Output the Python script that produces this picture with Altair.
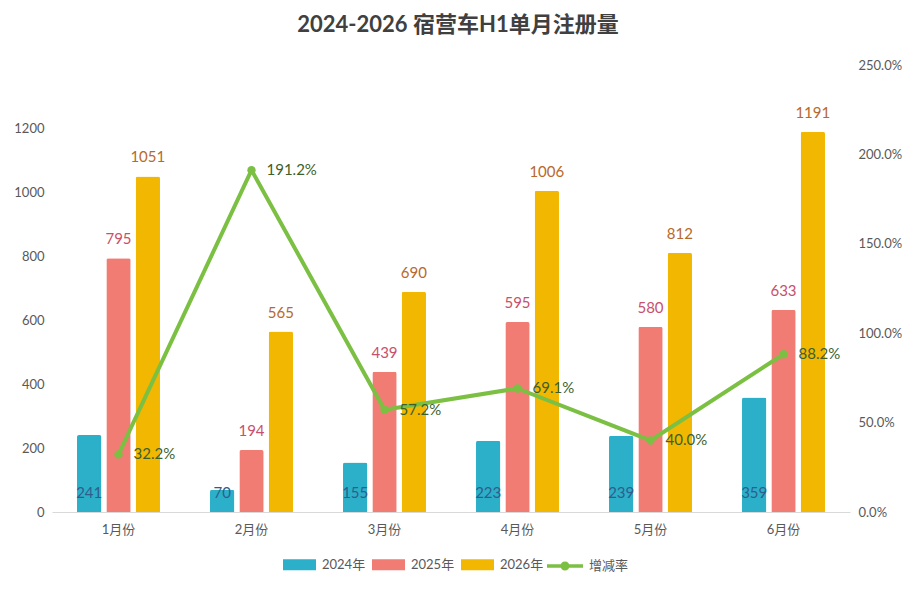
import altair as alt
import pandas as pd

months = ["1月份", "2月份", "3月份", "4月份", "5月份", "6月份"]
years = ["2024年", "2025年", "2026年"]
v2024 = [241, 70, 155, 223, 239, 359]
v2025 = [795, 194, 439, 595, 580, 633]
v2026 = [1051, 565, 690, 1006, 812, 1191]
growth = [0.322, 1.912, 0.572, 0.691, 0.400, 0.882]

bar_colors = ["#2CB0C9", "#F17C74", "#F2B700"]
label_colors = ["#2E5E8C", "#C8506A", "#B8692A"]
line_color = "#7BC043"
FONT = "Lato, 'Noto Sans CJK SC', sans-serif"

rows = []
for i, m in enumerate(months):
    for y, vals in zip(years, [v2024, v2025, v2026]):
        rows.append({"month": m, "year": y, "value": vals[i],
                     "labelpos": 0 if y == "2024年" else vals[i]})
bars_df = pd.DataFrame(rows)
line_df = pd.DataFrame({"month": months, "growth": growth, "series": ["增减率"] * 6})

x_enc = alt.X("month:N", sort=months, title=None,
              scale=alt.Scale(paddingInner=0.376, paddingOuter=0.188),
              axis=alt.Axis(labelAngle=0, ticks=False, domainColor="#D9D9D9",
                            labelColor="#595959", labelFontSize=13, labelPadding=11,
                            labelFont=FONT))
xoff = alt.XOffset("year:N", sort=years, scale=alt.Scale(paddingInner=0.17))
y_left = alt.Y("value:Q", title=None,
               scale=alt.Scale(domain=[0, 1400], nice=False),
               axis=alt.Axis(values=[0, 200, 400, 600, 800, 1000, 1200], grid=False,
                             format="d",
                             domain=False, ticks=False, labelColor="#595959",
                             labelFontSize=13, labelPadding=8, labelFont=FONT))

rect_path = "M-1,-0.33H1V0.33H-1Z"
bars = alt.Chart(bars_df).mark_bar(cornerRadiusTopLeft=2, cornerRadiusTopRight=2).encode(
    x=x_enc,
    xOffset=xoff,
    y=y_left,
    color=alt.Color("year:N", sort=years,
                    scale=alt.Scale(domain=years, range=bar_colors),
                    legend=alt.Legend(title=None, symbolType=rect_path, symbolSize=1089,
                                      symbolStrokeWidth=0, labelFontSize=13,
                                      labelColor="#595959", labelFont=FONT,
                                      orient="none", legendX=231, legendY=483,
                                      direction="horizontal",
                                      columnPadding=6, labelOffset=6)),
)

texts = []
for y, c in zip(years, label_colors):
    texts.append(
        alt.Chart(bars_df).transform_filter(alt.datum.year == y)
        .mark_text(color=c, fontSize=15, dy=-19, baseline="middle", font=FONT)
        .encode(x=alt.X("month:N", sort=months), xOffset=alt.XOffset("year:N", sort=years),
                y=alt.Y("labelpos:Q"), text="value:Q")
    )

left = alt.layer(bars, *texts)

y_right = alt.Y("growth:Q", title=None,
                scale=alt.Scale(domain=[0, 2.5], nice=False),
                axis=alt.Axis(values=[0, 0.5, 1.0, 1.5, 2.0, 2.5], format=".1%",
                              orient="right", grid=False, domain=False, ticks=False,
                              labelColor="#595959", labelFontSize=13, labelPadding=8,
                              labelFont=FONT))

line_legend_path = ("M-1,-0.1H1V0.1H-1Z "
                    "M0.25,0A0.25,0.25,0,1,1,-0.25,0A0.25,0.25,0,1,1,0.25,0Z")

line = alt.Chart(line_df).mark_line(color=line_color, strokeWidth=4).encode(
    x=alt.X("month:N", sort=months), y=y_right)
points = alt.Chart(line_df).mark_point(filled=True, size=70, opacity=1).encode(
    x=alt.X("month:N", sort=months), y=alt.Y("growth:Q"),
    fill=alt.Fill("series:N", scale=alt.Scale(domain=["增减率"], range=[line_color]),
                  legend=alt.Legend(title=None, symbolType=line_legend_path,
                                    symbolSize=1296, symbolStrokeWidth=0,
                                    labelFontSize=13, labelColor="#595959",
                                    labelFont=FONT, orient="none",
                                    legendX=495, legendY=483,
                                    direction="horizontal", labelOffset=6)))
line_text = alt.Chart(line_df).mark_text(color="#3D5F2C", fontSize=15, align="left",
                                         dx=15, baseline="middle", font=FONT).encode(
    x=alt.X("month:N", sort=months), y=alt.Y("growth:Q"),
    text=alt.Text("growth:Q", format=".1%"))

right = alt.layer(line, points, line_text)

chart = alt.layer(left, right).resolve_scale(y="independent").properties(
    width=798, height=447,
    title=alt.TitleParams("2024-2026 宿营车H1单月注册量", fontSize=22, font=FONT,
                          fontWeight="bold", color="#404040", offset=22, dx=7),
    autosize=alt.AutoSizeParams(type="none"),
    padding={"left": 44, "top": 57, "right": 59, "bottom": 71},
).configure(background="white").configure_view(strokeWidth=0, stroke="transparent")

chart.save("out.html", embed_options={"renderer": "svg", "actions": False})
